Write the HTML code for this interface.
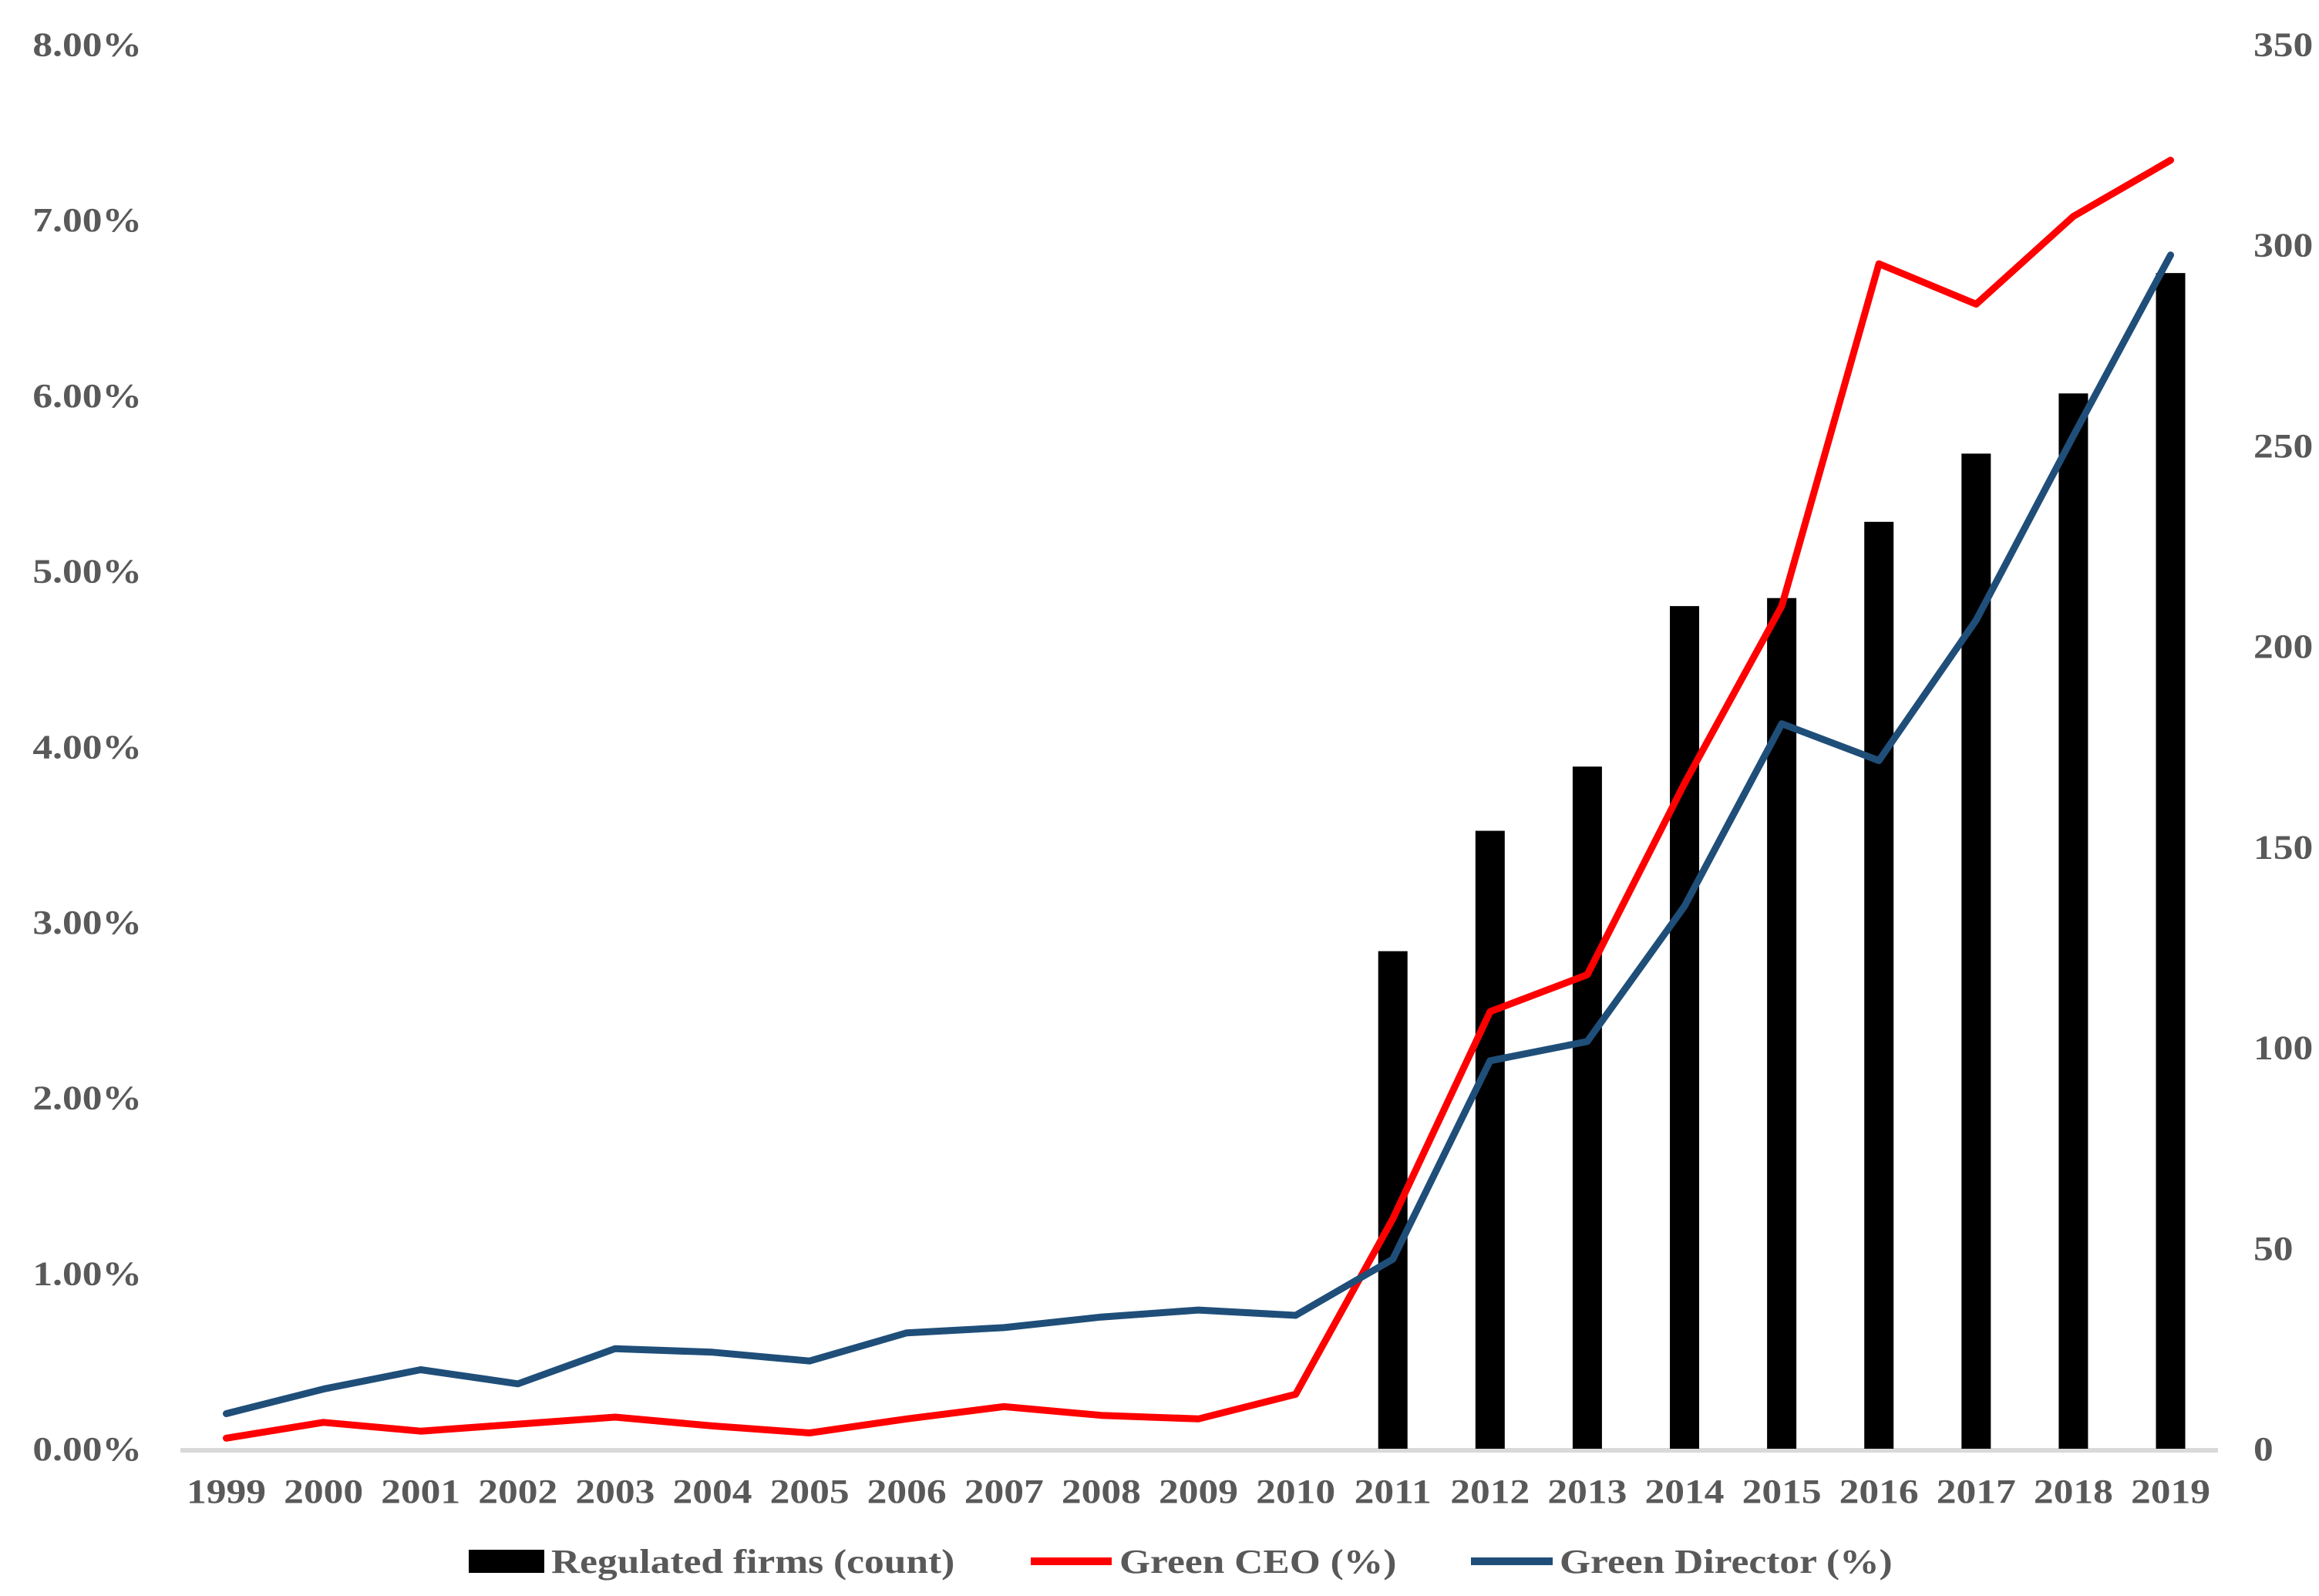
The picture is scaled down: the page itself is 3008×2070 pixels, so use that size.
<!DOCTYPE html>
<html><head><meta charset="utf-8"><style>
html,body{margin:0;padding:0;background:#fff;}
svg{display:block;}
text{font-family:"Liberation Serif",serif;font-weight:bold;fill:#595959;}
</style></head><body>
<svg id="chart" width="3008" height="2070" viewBox="0 0 3008 2070" xmlns="http://www.w3.org/2000/svg">
<g id="axes"></g>
<g id="bars"></g>
<g id="lines"></g>
<g id="legend">
  <rect x="608" y="2010" width="98" height="30" fill="#000"/>
  <text x="715" y="2040" font-size="44">Regulated firms (count)</text>
  <line x1="1337" y1="2025" x2="1442" y2="2025" stroke="#ff0000" stroke-width="10"/>
  <text x="1452" y="2040" font-size="44">Green CEO (%)</text>
  <line x1="1908" y1="2025" x2="2014" y2="2025" stroke="#1f4e79" stroke-width="10"/>
  <text x="2023" y="2040" font-size="44">Green Director (%)</text>
</g>
</svg>
<script>
const years = [1999,2000,2001,2002,2003,2004,2005,2006,2007,2008,2009,2010,2011,2012,2013,2014,2015,2016,2017,2018,2019];
const regulatedFirms = [0,0,0,0,0,0,0,0,0,0,0,0,124,154,170,210,212,231,248,263,293];
const greenCEO = [0.06,0.15,0.10,0.14,0.18,0.13,0.09,0.17,0.24,0.19,0.17,0.31,1.31,2.49,2.70,3.79,4.80,6.75,6.52,7.02,7.34];
const greenDirector = [0.20,0.34,0.45,0.37,0.57,0.55,0.50,0.66,0.69,0.75,0.79,0.76,1.08,2.21,2.32,3.09,4.13,3.92,4.72,5.77,6.80];
const leftTicks = [0,1,2,3,4,5,6,7,8];
const rightTicks = [0,50,100,150,200,250,300,350];

const NS = "http://www.w3.org/2000/svg";
const y0 = 1879, yTop = 57.5;
const x0 = 293.5, xStep = 126.1;
function xPos(i){ return x0 + i*xStep; }
function yLeft(v){ return y0 - (v/8)*(y0-yTop); }
function yRight(v){ return y0 - (v/350)*(y0-yTop); }
function mk(tag, attrs){ const e=document.createElementNS(NS,tag); for(const k in attrs) e.setAttribute(k,attrs[k]); return e; }

const axes = document.getElementById('axes');
leftTicks.forEach(t=>{
  const e = mk('text',{x:184,y:yLeft(t)+15,'font-size':44,'text-anchor':'end'});
  
  
  e.textContent = t.toFixed(2)+'%';
  axes.appendChild(e);
});
rightTicks.forEach(t=>{
  const e = mk('text',{x:2923,y:yRight(t)+15,'font-size':44,'text-anchor':'start'});
  
  
  e.textContent = String(t);
  axes.appendChild(e);
});
years.forEach((yr,i)=>{
  const e = mk('text',{x:xPos(i),y:1949,'font-size':44,'text-anchor':'middle'});
  
  
  e.textContent = String(yr);
  axes.appendChild(e);
});

const bars = document.getElementById('bars');
regulatedFirms.forEach((v,i)=>{
  if(v<=0) return;
  const r = mk('rect',{x:xPos(i)-19,y:yRight(v),width:38,height:y0-yRight(v),fill:'#000'});
  
  
  bars.appendChild(r);
});

const base = mk('line',{x1:234,y1:y0+2,x2:2877,y2:y0+2,stroke:'#d9d9d9','stroke-width':6});


axes.appendChild(base);

const lines = document.getElementById('lines');
function drawLine(vals,color,name){
  const pts = vals.map((v,i)=>xPos(i).toFixed(1)+','+yLeft(v).toFixed(1)).join(' ');
  const p = mk('polyline',{points:pts,fill:'none',stroke:color,'stroke-width':9,'stroke-linejoin':'round','stroke-linecap':'round'});
  
  
  lines.appendChild(p);
}
drawLine(greenCEO,'#ff0000','line-green-ceo');
drawLine(greenDirector,'#1f4e79','line-green-director');

// horizontally widen all text to match the reference's stretched glyphs
document.querySelectorAll('text').forEach(t=>{
  const w = t.getComputedTextLength();
  t.setAttribute('textLength', (w*1.17).toFixed(1));
  t.setAttribute('lengthAdjust','spacingAndGlyphs');
});
</script>
</body></html>
